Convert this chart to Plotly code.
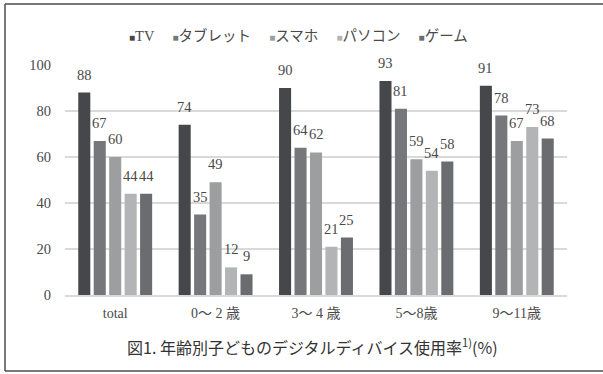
import plotly.graph_objects as go

# Age groups and device usage rates (%)
categories = ["total", "0～ 2 歳", "3～ 4 歳", "5～8歳", "9～11歳"]
series_names = ["TV", "タブレット", "スマホ", "パソコン", "ゲーム"]
tv = [88, 74, 90, 93, 91]
tablet = [67, 35, 64, 81, 78]
smartphone = [60, 49, 62, 59, 67]
pc = [44, 12, 21, 54, 73]
game = [44, 9, 25, 58, 68]
series_values = [tv, tablet, smartphone, pc, game]
colors = ["#46474a", "#76777a", "#9d9ea0", "#b3b4b6", "#6b6c6f"]

y_ticks = [0, 20, 40, 60, 80, 100]

W, H = 603, 374
M_L, M_R, M_T, M_B = 65, 36, 65, 79
BARGAP, BARGROUPGAP = 0.23, 0.22

serif = "Liberation Serif, Noto Sans CJK JP, serif"
sans = "Noto Sans CJK JP, Noto Sans, sans-serif"
text_gray = "#4a4a4a"

fig = go.Figure()
for name, vals, col in zip(series_names, series_values, colors):
    fig.add_trace(go.Bar(
        name=name, x=categories, y=vals,
        marker=dict(color=col, line=dict(width=0)),
        showlegend=False,
    ))

# value labels above each bar
plot_w = W - M_L - M_R
plot_h = H - M_T - M_B
cat_w = plot_w / len(categories)
slot = cat_w * (1 - BARGAP) / len(series_names)
annotations = []
for i, vals in enumerate(series_values):
    dx = (i - (len(series_names) - 1) / 2) * slot
    for cat, v in zip(categories, vals):
        annotations.append(dict(
            x=cat, y=v, xref="x", yref="y", text=str(v),
            showarrow=False, xshift=dx, yshift=18,
            xanchor="center", yanchor="middle",
            font=dict(family=serif, size=14.5, color=text_gray),
        ))

# legend row across the top
legend_parts = []
for name, col in zip(series_names, colors):
    legend_parts.append(
        f'<span style="color:{col};font-size:10px">■</span>{name}'
    )
annotations.append(dict(
    x=(298 - M_L) / plot_w, y=(H - M_B - 35) / plot_h,
    xref="paper", yref="paper", showarrow=False,
    xanchor="center", yanchor="middle",
    text="&nbsp;&nbsp;&nbsp;&nbsp;&nbsp;".join(legend_parts),
    font=dict(family=serif, size=14.5, color=text_gray),
))

# figure caption
annotations.append(dict(
    x=(312 - M_L) / plot_w, y=(H - M_B - 346) / plot_h,
    xref="paper", yref="paper", showarrow=False,
    xanchor="center", yanchor="middle",
    text="図1. 年齢別子どものデジタルディバイス使用率<sup>1)</sup>(%)",
    font=dict(family=sans, size=16, color="#333333"),
))

# outer frame: left, top and bottom edges (right edge lies past the page)
fx0 = (5 - M_L) / plot_w
fy_top = (H - M_B - 4) / plot_h
fy_bot = (H - M_B - 371) / plot_h
frame_line = dict(color="#4d4d4d", width=1.5)
shapes = [
    dict(type="line", xref="paper", yref="paper", x0=fx0, x1=fx0,
         y0=fy_bot, y1=fy_top, line=frame_line, layer="below"),
    dict(type="line", xref="paper", yref="paper", x0=fx0, x1=1.2,
         y0=fy_top, y1=fy_top, line=frame_line, layer="below"),
    dict(type="line", xref="paper", yref="paper", x0=fx0, x1=1.2,
         y0=fy_bot, y1=fy_bot, line=frame_line, layer="below"),
]

fig.update_layout(
    width=W, height=H,
    margin=dict(l=M_L, r=M_R, t=M_T, b=M_B, pad=0),
    paper_bgcolor="white", plot_bgcolor="white",
    barmode="group", bargap=BARGAP, bargroupgap=BARGROUPGAP,
    annotations=annotations,
    shapes=shapes,
    showlegend=False,
    xaxis=dict(
        showgrid=False, showline=True, linecolor="#d9d9d9", linewidth=1.5,
        ticks="outside", ticklen=4, tickcolor="rgba(0,0,0,0)",
        tickfont=dict(family=serif, size=14, color=text_gray),
        fixedrange=True,
    ),
    yaxis=dict(
        range=[0, 100], tickvals=y_ticks,
        showgrid=True, gridcolor="#d9d9d9", gridwidth=1.5,
        zeroline=False, showline=False,
        ticks="outside", ticklen=10, tickcolor="rgba(0,0,0,0)",
        tickfont=dict(family=serif, size=14.5, color=text_gray),
        fixedrange=True,
    ),
)

fig.write_html("out.html")
